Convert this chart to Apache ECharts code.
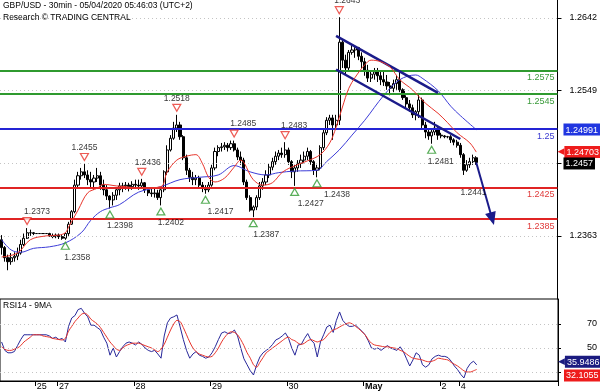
<!DOCTYPE html>
<html><head><meta charset="utf-8">
<script src="https://cdn.jsdelivr.net/npm/echarts@6/dist/echarts.min.js"></script>
<style>html,body{margin:0;padding:0;background:#fff}#c{width:600px;height:392px}</style>
</head><body><div id="c"></div>
<script>
const FONT = '"Liberation Sans", Arial, sans-serif';

// ---- axes ----
const slotCount = 175;                       // hourly slots incl. empty projection area
const slots = Array.from({length: slotCount}, (_, i) => String(i));
const dayTickSlots = [11, 18, 42, 66, 90, 114, 138, 144];
const dayTickLabels = ['25', '27', '28', '29', '30', 'May', '2', '4'];
const priceTicks = [1.2363, 1.2456, 1.2549, 1.2642];
const priceTickLabels = [1.2363, 1.2549, 1.2642];
const rsiTicks = [30, 50, 70];
const rsiTickLabels = [50, 70];

// ---- candles (hourly) ----
const opens = [
1.2358,1.2348,1.2335,1.2330,1.2335,1.2337,1.2341,1.2352,1.2360,1.2367,
1.2367,1.2366,1.2366,1.2366,1.2366,1.2366,1.2363,1.2362,1.2364,1.2362,
1.2360,1.2366,1.2378,1.2394,1.2428,1.2440,1.2445,1.2441,1.2435,1.2432,
1.2437,1.2440,1.2428,1.2422,1.2414,1.2409,1.2415,1.2422,1.2427,1.2427,
1.2428,1.2426,1.2429,1.2428,1.2427,1.2431,1.2422,1.2418,1.2417,1.2418,
1.2412,1.2422,1.2445,1.2473,1.2488,1.2501,1.2505,1.2490,1.2463,1.2447,
1.2438,1.2435,1.2437,1.2428,1.2424,1.2422,1.2428,1.2450,1.2471,1.2476,
1.2477,1.2479,1.2476,1.2481,1.2473,1.2464,1.2460,1.2432,1.2412,1.2396,
1.2400,1.2412,1.2427,1.2432,1.2441,1.2451,1.2458,1.2465,1.2469,1.2467,
1.2473,1.2458,1.2445,1.2450,1.2456,1.2460,1.2465,1.2471,1.2458,1.2447,
1.2450,1.2476,1.2495,1.2511,1.2514,1.2505,1.2511,1.2611,1.2588,1.2578,
1.2598,1.2601,1.2604,1.2593,1.2586,1.2575,1.2565,1.2570,1.2573,1.2568,
1.2563,1.2560,1.2555,1.2552,1.2558,1.2563,1.2550,1.2540,1.2532,1.2527,
1.2518,1.2522,1.2537,1.2505,1.2496,1.2491,1.2496,1.2501,1.2492,1.2491,
1.2490,1.2490,1.2486,1.2483,1.2479,1.2467,1.2447,1.2454,1.2458,1.2463];
const closes = [
1.2348,1.2335,1.2330,1.2335,1.2337,1.2341,1.2352,1.2360,1.2367,1.2367,
1.2366,1.2366,1.2366,1.2366,1.2366,1.2363,1.2362,1.2364,1.2362,1.2360,
1.2366,1.2378,1.2394,1.2428,1.2440,1.2445,1.2441,1.2435,1.2432,1.2437,
1.2440,1.2428,1.2422,1.2414,1.2409,1.2415,1.2422,1.2427,1.2427,1.2428,
1.2426,1.2429,1.2428,1.2427,1.2431,1.2422,1.2418,1.2417,1.2418,1.2412,
1.2422,1.2445,1.2473,1.2488,1.2501,1.2505,1.2490,1.2463,1.2447,1.2438,
1.2435,1.2437,1.2428,1.2424,1.2422,1.2428,1.2450,1.2471,1.2476,1.2477,
1.2479,1.2476,1.2481,1.2473,1.2464,1.2460,1.2432,1.2412,1.2396,1.2400,
1.2412,1.2427,1.2432,1.2441,1.2451,1.2458,1.2465,1.2469,1.2467,1.2473,
1.2458,1.2445,1.2450,1.2456,1.2460,1.2465,1.2471,1.2458,1.2447,1.2450,
1.2476,1.2495,1.2511,1.2514,1.2505,1.2511,1.2611,1.2588,1.2578,1.2598,
1.2601,1.2604,1.2593,1.2586,1.2575,1.2565,1.2570,1.2573,1.2568,1.2563,
1.2560,1.2555,1.2552,1.2558,1.2563,1.2550,1.2540,1.2532,1.2527,1.2518,
1.2522,1.2537,1.2505,1.2496,1.2491,1.2496,1.2501,1.2492,1.2491,1.2490,
1.2490,1.2486,1.2483,1.2479,1.2467,1.2447,1.2454,1.2458,1.2463,1.2457];
const lows = [
1.2339,1.2330,1.2319,1.2326,1.2330,1.2332,1.2339,1.2350,1.2359,1.2363,
1.2364,1.2366,1.2366,1.2366,1.2366,1.2362,1.2360,1.2360,1.2359,1.2358,
1.2358,1.2363,1.2377,1.2392,1.2424,1.2435,1.2437,1.2428,1.2424,1.2422,
1.2432,1.2422,1.2415,1.2409,1.2398,1.2402,1.2409,1.2415,1.2419,1.2422,
1.2420,1.2422,1.2424,1.2422,1.2424,1.2418,1.2414,1.2413,1.2412,1.2409,
1.2402,1.2419,1.2441,1.2471,1.2486,1.2496,1.2486,1.2460,1.2441,1.2432,
1.2428,1.2428,1.2424,1.2419,1.2417,1.2419,1.2426,1.2447,1.2465,1.2471,
1.2473,1.2471,1.2473,1.2471,1.2460,1.2454,1.2428,1.2409,1.2394,1.2387,
1.2396,1.2409,1.2422,1.2428,1.2437,1.2447,1.2454,1.2460,1.2463,1.2463,
1.2454,1.2437,1.2427,1.2445,1.2450,1.2456,1.2460,1.2454,1.2441,1.2438,
1.2447,1.2473,1.2492,1.2505,1.2486,1.2499,1.2505,1.2578,1.2569,1.2575,
1.2595,1.2591,1.2588,1.2578,1.2568,1.2560,1.2560,1.2563,1.2560,1.2556,
1.2555,1.2550,1.2543,1.2547,1.2550,1.2547,1.2537,1.2527,1.2522,1.2514,
1.2511,1.2514,1.2499,1.2488,1.2486,1.2481,1.2492,1.2486,1.2488,1.2488,
1.2488,1.2482,1.2479,1.2476,1.2463,1.2441,1.2445,1.2450,1.2454,1.2454];
const highs = [
1.2364,1.2350,1.2339,1.2341,1.2342,1.2348,1.2358,1.2366,1.2373,1.2371,
1.2368,1.2366,1.2366,1.2366,1.2366,1.2367,1.2366,1.2366,1.2366,1.2364,
1.2367,1.2381,1.2396,1.2435,1.2445,1.2450,1.2455,1.2447,1.2445,1.2441,
1.2450,1.2445,1.2435,1.2428,1.2415,1.2419,1.2424,1.2431,1.2431,1.2432,
1.2431,1.2433,1.2435,1.2435,1.2436,1.2432,1.2424,1.2423,1.2423,1.2422,
1.2424,1.2447,1.2479,1.2492,1.2509,1.2518,1.2509,1.2492,1.2467,1.2450,
1.2445,1.2441,1.2440,1.2432,1.2428,1.2432,1.2454,1.2476,1.2479,1.2482,
1.2483,1.2482,1.2485,1.2485,1.2476,1.2471,1.2463,1.2435,1.2415,1.2402,
1.2415,1.2432,1.2437,1.2447,1.2456,1.2463,1.2471,1.2473,1.2476,1.2483,
1.2476,1.2460,1.2454,1.2460,1.2467,1.2471,1.2476,1.2473,1.2460,1.2454,
1.2479,1.2499,1.2515,1.2518,1.2518,1.2518,1.2643,1.2614,1.2595,1.2601,
1.2607,1.2606,1.2605,1.2598,1.2591,1.2582,1.2575,1.2578,1.2578,1.2575,
1.2573,1.2569,1.2560,1.2563,1.2569,1.2573,1.2552,1.2543,1.2537,1.2531,
1.2524,1.2546,1.2540,1.2509,1.2501,1.2499,1.2509,1.2502,1.2495,1.2492,
1.2491,1.2492,1.2488,1.2486,1.2482,1.2469,1.2460,1.2463,1.2467,1.2465];

// ---- moving averages read at points along the lines [slot, price] ----
const maFast = [[0,1.2336],[5,1.2341],[9,1.2358],[14,1.2363],[18,1.2364],[20,1.2367],[21,1.2374],[24,1.2396],[27,1.2418],[30,1.2424],[32,1.2429],[36,1.2427],[39,1.2426],[43,1.2424],[50,1.2426],[52,1.2445],[55,1.2460],[58,1.2465],[61,1.2467],[63,1.2456],[65,1.2438],[67,1.2432],[70,1.2437],[73,1.2451],[75,1.2460],[79,1.2435],[82,1.2428],[85,1.2431],[88,1.2444],[91,1.2451],[96,1.2459],[100,1.2467],[103,1.2482],[105,1.2502],[107,1.2528],[109,1.2552],[111,1.2566],[114,1.2582],[116,1.2588],[119,1.2586],[122,1.2579],[125,1.2563],[129,1.2550],[133,1.2533],[137,1.2520],[140,1.2508],[143,1.2495],[147,1.2482],[149,1.24703]];
const maSlow = [[0,1.2358],[3,1.2345],[6,1.2342],[10,1.2347],[15,1.2349],[20,1.2354],[25,1.2367],[28,1.2383],[31,1.2394],[34,1.2399],[37,1.2403],[43,1.2419],[50,1.2426],[56,1.2435],[62,1.2438],[68,1.2441],[73,1.2453],[78,1.2445],[83,1.2441],[87,1.2444],[92,1.2446],[99,1.2447],[102,1.2458],[106,1.2473],[110,1.2492],[114,1.2511],[120,1.2543],[125,1.2563],[130,1.2569],[132,1.2565],[137,1.2549],[141,1.2529],[144,1.2517],[149,1.24991]];

// ---- RSI14 and its 9MA ----
const rsi = [55,48,46,46,47,52,57,61,61,61, 61,61,61,61,61,60,58,59,57,58, 55,68,75,77,82,83,79,76,69,69,
 67,65,59,54,44,50,42.5,47,51,54, 55,54,52.5,55,53,50,48,47,48,45, 41.5,60,71,75,76,77.5,67.5,57,48,41.5,
 45,47,44,43,41.5,42.5,46,51,57,62.5, 63.5,62,62.5,65,60,50,41,36,31,27.5, 36,42.5,46,48,50,53,56.7,58,60,62.5,
 58,50,44,52.5,53,58,62,56.7,54,42.5, 55,61,67.5,69,63,73,80,73,70,68, 68,69,66.5,64,61,56,50,49,50,48,
 50,52,50,49,48,51,47,41,35,40, 46,44,36,34,36,41,43,44,43,43, 42,39,35,32,28,25,33,37,39,35.9486];
const rsiMa = [51,49,48,48,49,50,52,55,57,59, 61,61,61,60,59.5,59,58,57.5,57,56.7, 58,64,68,72,75,78,79,77.5,74,72,
 70,67,63,59,55,52,49,48,50,52, 53,54,54,54,53,52,51,50,48.5,47, 49,53,59,65,70,73,72,67,61,55,
 50,47,45,44,43,42.5,43,46,50,55, 59,62,63.5,63,61,57,52,46,41.5,36, 34,38,42,46,48,50,52,54,56,58,
 59,57,56,54,53,54,56,57,56,55, 56,57,60,63,65,66,67.5,69,70,71, 70,68,66,63.5,61,57,54,52.5,52,51.5,
 51,51,50.5,50,49.5,48,47,45,43,41.5, 41,40.5,40,39,38.5,39,40,41.5,41,40.5, 40,38,36.5,35,33,31,30,30,31,32.1055];

// ---- annotations ----
const levels = [1.2575, 1.2545, 1.25, 1.2425, 1.2385];
const levelText = ['1.2575', '1.2545', '1.25', '1.2425', '1.2385'];
const peakIdx = [8, 26, 44, 55, 73, 89, 106];
const peakVal = [1.2373, 1.2455, 1.2436, 1.2518, 1.2485, 1.2483, 1.2643];
const troughIdx = [20, 34, 50, 64, 79, 92, 99, 135];
const troughVal = [1.2358, 1.2398, 1.2402, 1.2417, 1.2387, 1.2427, 1.2438, 1.2481];
const forecastIdx = 145, forecastVal = 1.2441;
const channelUpper = [[105, 1.2619], [137, 1.2546]];
const channelLower = [[105, 1.2576], [144, 1.2487]];
const projection = [[149, 1.2457], [154, 1.2385]];
const lastPrice = 1.2457, maFastLast = 1.24703, maSlowLast = 1.24991;
const rsiLast = 35.9486, rsiMaLast = 32.1055;

// ---- styling ----
const levelColors = ['#2f9a2f', '#2f9a2f', '#2424d4', '#e02424', '#e02424'];
const levelTextColors = ['#3a9a3a', '#3a9a3a', '#3a3ad0', '#e03a3a', '#e03a3a'];
const peakDx = [10, 0, 6, 0, 9, 9, 8];
const troughDx = [12, 10, 10, 15, 13, 16, 20, 9];
const NAVY = '#1b1b8a';

const candles = opens.map((o, i) => [o, closes[i], lows[i], highs[i]]);

const txt = (size) => ({fontFamily: FONT, fontSize: size, color: '#000'});
const valueBox = (v, text, bg, dy, pointer) => ({
  yAxis: v,
  lineStyle: {color: 'transparent', width: 0},
  label: {show: true, position: 'end', distance: pointer ? 0 : 6, offset: [0, dy],
    formatter: pointer ? '{p|\u25C0}{b|' + text + '}' : '{b|' + text + '}',
    rich: {
      p: {color: bg, fontFamily: '"DejaVu Sans", sans-serif', fontSize: 9, padding: [0, 0, 0, 0], lineHeight: 12},
      b: {backgroundColor: bg, color: '#fff', fontFamily: FONT, fontSize: 9, padding: [2, 2, 1, 2], lineHeight: 12}
    }}
});

const chart = echarts.init(document.getElementById('c'), null, {renderer: 'canvas'});
chart.setOption({
  animation: false,
  backgroundColor: '#fff',
  title: [
    {text: 'GBP/USD - 30min - 05/04/2020 05:46:03 (UTC+2)\nResearch © TRADING CENTRAL', left: 3, top: 0, padding: 0,
     textStyle: Object.assign(txt(8.5), {fontWeight: 'normal', lineHeight: 12})},
    {text: 'RSI14 - 9MA', left: 3, top: 301, padding: 0,
     textStyle: Object.assign(txt(8.5), {fontWeight: 'normal', lineHeight: 10})}
  ],
  grid: [
    {left: -1, right: 42, top: 0, height: 299, show: false},
    {left: -1, right: 42, top: 299, height: 82, show: true, borderColor: '#000', borderWidth: 1, backgroundColor: 'transparent'}
  ],
  xAxis: [
    {type: 'category', gridIndex: 0, data: slots, boundaryGap: true, show: false},
    {type: 'category', gridIndex: 1, data: slots, boundaryGap: true,
     axisLine: {show: true, lineStyle: {color: '#000', width: 1}},
     axisTick: {show: true, length: 5, interval: (i) => dayTickSlots.includes(i), lineStyle: {color: '#000'}},
     axisLabel: {interval: (i) => dayTickSlots.includes(i), align: 'left', margin: 1,
       formatter: (v) => { const k = dayTickSlots.indexOf(Number(v)); const t = dayTickLabels[k]; return t === 'May' ? '{b|May}' : t; },
       fontFamily: FONT, fontSize: 9, color: '#000',
       rich: {b: {fontFamily: FONT, fontSize: 9, fontWeight: 'bold', color: '#000'}}},
     splitLine: {show: false}}
  ],
  yAxis: [
    {type: 'value', gridIndex: 0, position: 'right', min: 1.22822, max: 1.2665,
     axisLine: {show: true, lineStyle: {color: '#000', width: 1}},
     axisTick: {show: true, length: 4, customValues: priceTicks, lineStyle: {color: '#000'}},
     axisLabel: {customValues: priceTickLabels, margin: 12, formatter: (v) => v.toFixed(4), fontFamily: FONT, fontSize: 9, color: '#000'},
     splitLine: {show: false}},
    {type: 'value', gridIndex: 1, position: 'right', min: 22.5, max: 90.8,
     axisLine: {show: true, lineStyle: {color: '#000', width: 1}},
     axisTick: {show: true, length: 3, customValues: rsiTicks, lineStyle: {color: '#000'}},
     axisLabel: {customValues: rsiTickLabels, margin: 39, align: 'right', fontFamily: FONT, fontSize: 9, color: '#000'},
     splitLine: {show: false}}
  ],
  series: [
    { // grid lines and key levels
      type: 'line', xAxisIndex: 0, yAxisIndex: 0, data: [], z: 1,
      markLine: {silent: true, symbol: 'none', animation: false, precision: 6,
        data: priceTicks.map(v => ({yAxis: v, lineStyle: {color: '#c4c4c4', type: [1, 3], width: 1}, label: {show: false}}))
          .concat(levels.map((v, k) => ({yAxis: v, lineStyle: {color: levelColors[k], width: 2, type: 'solid'},
            label: {show: true, position: 'insideEndBottom', distance: [3, 3], formatter: levelText[k], color: levelTextColors[k], fontFamily: FONT, fontSize: 9}})))}
    },
    {
      type: 'candlestick', xAxisIndex: 0, yAxisIndex: 0, data: candles, z: 3, barWidth: 2.6,
      itemStyle: {color: '#ffffff', color0: '#000000', borderColor: '#000000', borderColor0: '#000000', borderWidth: 1}
    },
    {
      type: 'line', xAxisIndex: 0, yAxisIndex: 0, data: maSlow, z: 4, smooth: 0.35, showSymbol: false, symbol: 'none',
      lineStyle: {color: '#3d3dd8', width: 1}
    },
    {
      type: 'line', xAxisIndex: 0, yAxisIndex: 0, data: maFast, z: 5, smooth: 0.35, showSymbol: false, symbol: 'none',
      lineStyle: {color: '#e8352c', width: 1}
    },
    { // resistance triangles
      type: 'scatter', xAxisIndex: 0, yAxisIndex: 0, z: 6, symbol: 'path://M0,0 L10,0 L5,9 Z', symbolSize: [8, 7], symbolOffset: [0, -7],
      itemStyle: {color: '#fff', borderColor: '#e8322a', borderWidth: 1.2},
      data: peakIdx.map((i, k) => ({value: [i, peakVal[k]], label: {offset: [peakDx[k], 0]}})),
      label: {show: true, position: 'top', distance: 1, formatter: (p) => p.value[1].toFixed(4), fontFamily: FONT, fontSize: 8.5, color: '#000'}
    },
    { // support triangles
      type: 'scatter', xAxisIndex: 0, yAxisIndex: 0, z: 6, symbol: 'path://M5,0 L10,9 L0,9 Z', symbolSize: [8, 7], symbolOffset: [0, 6],
      itemStyle: {color: '#fff', borderColor: '#2f9a2f', borderWidth: 1.2},
      data: troughIdx.map((i, k) => ({value: [i, troughVal[k]], label: {offset: [troughDx[k], 0]}}))
        .concat([{value: [forecastIdx, forecastVal], itemStyle: {color: 'transparent', borderColor: 'transparent'}, label: {offset: [10, 0]}}]),
      label: {show: true, position: 'bottom', distance: 3, formatter: (p) => p.value[1].toFixed(4), fontFamily: FONT, fontSize: 8.5, color: '#000'}
    },
    { // channel, projection and value boxes
      type: 'line', xAxisIndex: 0, yAxisIndex: 0, data: [], z: 7,
      markLine: {silent: true, animation: false, symbol: 'none', precision: 6,
        data: [
          [{coord: channelUpper[0], lineStyle: {color: NAVY, width: 2.5, type: 'solid'}, label: {show: false}}, {coord: channelUpper[1]}],
          [{coord: channelLower[0], lineStyle: {color: NAVY, width: 2.5, type: 'solid'}, label: {show: false}}, {coord: channelLower[1]}],
          [{coord: projection[0], symbol: 'none', lineStyle: {color: NAVY, width: 2, type: 'solid'}, label: {show: false}},
           {coord: projection[1], symbol: 'triangle', symbolSize: [11, 13]}],
          valueBox(maSlowLast, '1.24991', '#2136e0', 0, false),
          valueBox(maFastLast, '1.24703', '#ee1c1c', 0, true),
          valueBox(lastPrice, '1.2457', '#000000', 1, false)
        ]}
    },
    {
      type: 'line', xAxisIndex: 1, yAxisIndex: 1, data: [], z: 1,
      markLine: {silent: true, symbol: 'none', animation: false, precision: 6,
        data: rsiTicks.map(v => ({yAxis: v, lineStyle: {color: '#c4c4c4', type: [1, 3], width: 1}, label: {show: false}}))}
    },
    {
      type: 'line', xAxisIndex: 1, yAxisIndex: 1, data: rsi, z: 3, showSymbol: false, symbol: 'none',
      lineStyle: {color: '#28289a', width: 1}
    },
    {
      type: 'line', xAxisIndex: 1, yAxisIndex: 1, data: rsiMa, z: 4, showSymbol: false, symbol: 'none', smooth: 0.3,
      lineStyle: {color: '#e8352c', width: 1},
      markLine: {silent: true, symbol: 'none', animation: false, precision: 6,
        data: [valueBox(rsiLast, '35.9486', '#1b1b80', -3, true), valueBox(rsiMaLast, '32.1055', '#ee1c1c', 6, false)]}
    }
  ]
});
</script>
</body></html>
